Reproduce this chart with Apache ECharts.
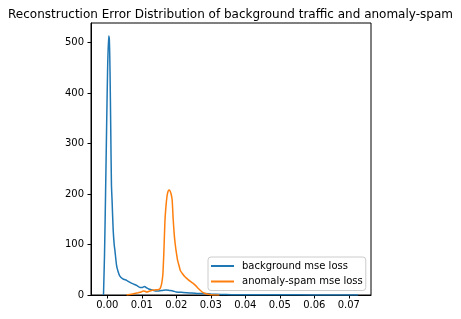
<!DOCTYPE html>
<html><head><meta charset="utf-8">
<script src="https://cdn.jsdelivr.net/npm/echarts@6/dist/echarts.min.js"></script>
<style>html,body{margin:0;padding:0;background:#fff}#c{width:461px;height:319px}</style>
</head><body><div id="c"></div>
<script>
const titleText = "Reconstruction Error Distribution of background traffic and anomaly-spam";
const seriesNames = ["background mse loss", "anomaly-spam mse loss"];
const xTicks = [0, 0.01, 0.02, 0.03, 0.04, 0.05, 0.06, 0.07];
const yTicks = [0, 100, 200, 300, 400, 500];

const bgX = [-0.0011, -0.0008, -0.0005, -0.0002, 0.0001, 0.0004, 0.0006, 0.0008, 0.001, 0.0012, 0.0014, 0.0017, 0.002, 0.0022, 0.0027, 0.0031, 0.0036, 0.0045, 0.0056, 0.0066, 0.0075, 0.0085, 0.0095, 0.0102, 0.0108, 0.0114, 0.012, 0.013, 0.014, 0.015, 0.016, 0.017, 0.018, 0.019, 0.02, 0.022, 0.024, 0.026, 0.028, 0.03, 0.033, 0.036, 0.04, 0.05, 0.06, 0.07, 0.0727];
const bgY = [0, 80, 200, 330, 450, 513, 505, 440, 330, 220, 185, 130, 100, 89, 58, 47, 38, 32, 29, 25, 22, 19, 15, 15, 17, 14, 12, 10, 8, 8, 9, 10, 9, 8, 6, 5, 4, 3, 3, 2, 1, 0.6, 0.4, 0.3, 0.2, 0.1, 0];

const spX = [0.0056, 0.007, 0.008, 0.009, 0.0098, 0.0104, 0.0109, 0.0114, 0.012, 0.0128, 0.0138, 0.0148, 0.0152, 0.0155, 0.0158, 0.0161, 0.0164, 0.0167, 0.017, 0.0173, 0.0176, 0.0179, 0.0182, 0.0185, 0.0188, 0.0191, 0.0194, 0.0197, 0.02, 0.0204, 0.0208, 0.0212, 0.0218, 0.0225, 0.0235, 0.0249, 0.0257, 0.0264, 0.027, 0.0278, 0.0286, 0.0293, 0.03, 0.031, 0.0325];
const spY = [0, 1.5, 3, 4.6, 6, 8, 7.5, 6, 7, 9, 10, 11, 12, 16, 24, 40, 85, 145, 175, 195, 205, 208, 206, 200, 188, 150, 120, 100, 85, 68, 58, 48, 42, 36, 30, 23, 18, 13, 9, 4.6, 2.5, 1.3, 0.6, 0.2, 0];

const font = "DejaVu Sans";
const chart = echarts.init(document.getElementById('c'), null, {renderer: 'canvas'});
chart.setOption({
  animation: false,
  backgroundColor: '#fff',
  title: {text: titleText, left: 'center', top: 4,
    textStyle: {fontFamily: font, fontSize: 12, fontWeight: 'normal', color: '#000'}},
  grid: {left: 91, right: 90, top: 23, bottom: 24, show: true, borderColor: '#000', borderWidth: 1, backgroundColor: 'transparent'},
  legend: {
    orient: 'vertical', left: 208, top: 257,
    icon: 'rect', itemWidth: 23, itemHeight: 2, itemGap: 3.5,
    padding: [3, 3, 3, 3],
    borderColor: '#ccc', borderWidth: 1, borderRadius: 3, backgroundColor: 'rgba(255,255,255,0.8)',
    textStyle: {fontFamily: font, fontSize: 10, color: '#000', padding: [0, 0, 0, 3], lineHeight: 12},
    data: seriesNames
  },
  xAxis: {
    type: 'value', min: -0.00472, max: 0.07643,
    axisLine: {show: true, onZero: false, lineStyle: {color: '#000', width: 1}},
    axisTick: {show: true, length: 3.5, customValues: xTicks, lineStyle: {color: '#000'}},
    axisLabel: {customValues: xTicks, margin: 5, fontFamily: font, fontSize: 10, color: '#000',
      formatter: v => v.toFixed(2)},
    splitLine: {show: false}
  },
  yAxis: {
    type: 'value', min: 0, max: 538.6,
    axisLine: {show: true, onZero: false, lineStyle: {color: '#000', width: 1}},
    axisTick: {show: true, length: 3.5, customValues: yTicks, lineStyle: {color: '#000'}},
    axisLabel: {customValues: yTicks, margin: 7, fontFamily: font, fontSize: 10, color: '#000'},
    splitLine: {show: false}
  },
  series: [
    {name: seriesNames[0], type: 'line', symbol: 'none', smooth: 0.2,
      data: bgX.map((x, i) => [x, bgY[i]]),
      lineStyle: {color: '#1f77b4', width: 1.5}, itemStyle: {color: '#1f77b4'}},
    {name: seriesNames[1], type: 'line', symbol: 'none', smooth: 0.2,
      data: spX.map((x, i) => [x, spY[i]]),
      lineStyle: {color: '#ff7f0e', width: 1.5}, itemStyle: {color: '#ff7f0e'}}
  ]
});
</script></body></html>
